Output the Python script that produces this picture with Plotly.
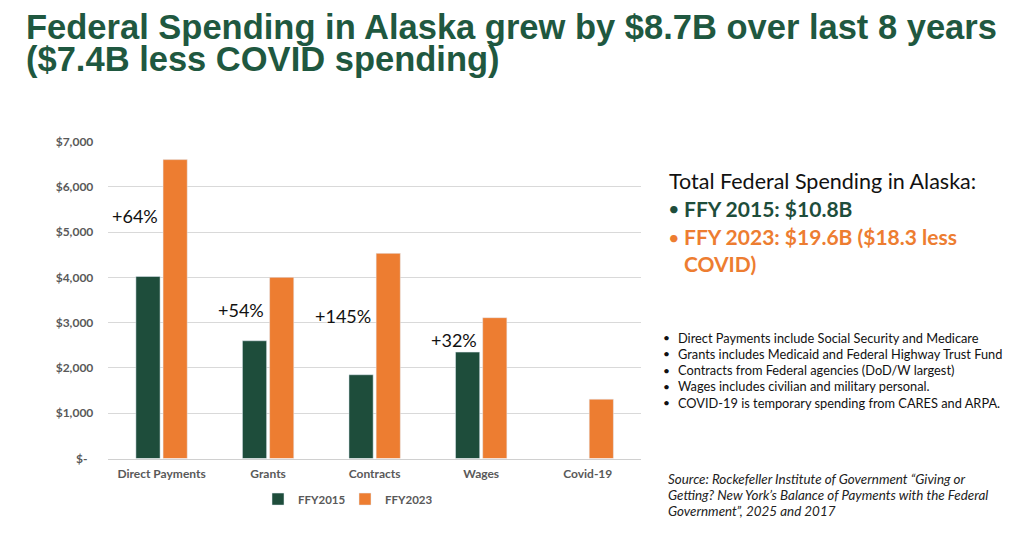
import plotly.graph_objects as go

# chart data (US$ millions)
categories = ["Direct Payments", "Grants", "Contracts", "Wages", "Covid-19"]
ffy2015 = [4020, 2600, 1850, 2350, None]
ffy2023 = [6600, 4000, 4530, 3110, 1310]
growth_labels = ["+64%", "+54%", "+145%", "+32%"]
growth_label_y = [5350, 3290, 3150, 2610]

y_tickvals = [0, 1000, 2000, 3000, 4000, 5000, 6000, 7000]
y_ticktext = ["$-\u00a0\u00a0", "$1,000", "$2,000", "$3,000", "$4,000", "$5,000", "$6,000", "$7,000"]

title_lines = ["Federal Spending in Alaska grew by $8.7B over last 8 years",
               "($7.4B less COVID spending)"]
notes = ["Direct Payments include Social Security and Medicare",
         "Grants includes Medicaid and Federal Highway Trust Fund",
         "Contracts from Federal agencies (DoD/W largest)",
         "Wages includes civilian and military personal.",
         "COVID-19 is temporary spending from CARES and ARPA."]
source_lines = ["Source: Rockefeller Institute of Government \u201cGiving or",
                "Getting? New York\u2019s Balance of Payments with the Federal",
                "Government\u201d, 2025 and 2017"]

W, H = 1024, 544
green = "#1e4d3b"
title_green = "#1f5840"
orange = "#ed7d31"
gray = "#595959"
font = "Lato"


def fx(px):
    return px / W


def fy(py):
    return 1 - py / H


fig = go.Figure()
fig.add_trace(go.Bar(x=categories, y=ffy2015, name="<b>FFY2015</b>", marker_color=green))
fig.add_trace(go.Bar(x=categories, y=ffy2023, name="<b>FFY2023</b>", marker_color=orange))

ann = []
# growth labels sit to the left, ending at the FFY2015 bar
for cat, txt, yv in zip(categories, growth_labels, growth_label_y):
    ann.append(dict(x=cat, y=yv, xref="x", yref="y", text=txt, showarrow=False,
                    xanchor="right", yanchor="middle", xshift=-2,
                    font=dict(family=font, size=18, color="#111111")))

# slide title
for i, line in enumerate(title_lines):
    ann.append(dict(x=fx(24), y=fy(20 + i * 32), xref="paper", yref="paper", text="<b>%s</b>" % line,
                    showarrow=False, xanchor="left", yanchor="middle",
                    font=dict(family="Liberation Sans", size=34.5, color=title_green)))

# totals box
ann.append(dict(x=fx(667), y=fy(178), xref="paper", yref="paper", text="Total Federal Spending in Alaska:",
                showarrow=False, xanchor="left", yanchor="middle",
                font=dict(family=font, size=21.5, color="#111111")))
totals = [("FFY 2015: $10.8B", green, 206, True),
          ("FFY 2023: $19.6B ($18.3 less", orange, 235, True),
          ("COVID)", orange, 263, False)]
for txt, col, py, bullet in totals:
    if bullet:
        ann.append(dict(x=fx(666), y=fy(py), xref="paper", yref="paper", text="\u2022",
                        showarrow=False, xanchor="left", yanchor="middle",
                        font=dict(family=font, size=20, color=col)))
    ann.append(dict(x=fx(682), y=fy(py), xref="paper", yref="paper", text="<b>%s</b>" % txt,
                    showarrow=False, xanchor="left", yanchor="middle",
                    font=dict(family=font, size=21, color=col)))

# footnotes
for i, line in enumerate(notes):
    py = 339 + i * 16.7
    ann.append(dict(x=fx(661), y=fy(py), xref="paper", yref="paper", text="\u2022",
                    showarrow=False, xanchor="left", yanchor="middle",
                    font=dict(family=font, size=12, color="#111111")))
    ann.append(dict(x=fx(676), y=fy(py), xref="paper", yref="paper", text=line,
                    showarrow=False, xanchor="left", yanchor="middle",
                    font=dict(family=font, size=12.8, color="#111111")))

for i, line in enumerate(source_lines):
    ann.append(dict(x=fx(666), y=fy(484 + i * 16.7), xref="paper", yref="paper", text="<i>%s</i>" % line,
                    showarrow=False, xanchor="left", yanchor="middle",
                    font=dict(family=font, size=13.4, color="#222222")))

fig.update_layout(
    width=W, height=H,
    margin=dict(l=0, r=0, t=0, b=0),
    paper_bgcolor="white", plot_bgcolor="white",
    barmode="group", bargap=0.49, bargroupgap=0.11,
    font=dict(family=font, color=gray),
    showlegend=True,
    legend=dict(orientation="h", x=fx(258), y=fy(505), xanchor="left", yanchor="middle",
                font=dict(family=font, size=11.5, color=gray), itemwidth=30,
                entrywidth=42, entrywidthmode="pixels", bgcolor="rgba(0,0,0,0)"),
    annotations=ann,
    xaxis=dict(domain=[fx(108.3), fx(641)], showline=True, linecolor="#d0d0d0", linewidth=1,
               showgrid=False, ticks="", ticklabelstandoff=4,
               tickfont=dict(family=font, size=12, color=gray, weight="bold"),
               fixedrange=True),
    yaxis=dict(domain=[fy(463.3), fy(137.3)], range=[0, 7000], tickvals=y_tickvals, ticktext=y_ticktext,
               showgrid=True, gridcolor="#d9d9d9", gridwidth=1, zeroline=False, showline=False,
               ticks="", ticklabelstandoff=14, tickfont=dict(family=font, size=12, color=gray, weight="bold"),
               fixedrange=True),
)

# page body has a default margin; drop it so the figure sits at the window corner
page_js = "document.body.style.margin='0';document.body.style.overflow='hidden';"
fig.write_html("out.html", config={"displayModeBar": False}, post_script=page_js)
